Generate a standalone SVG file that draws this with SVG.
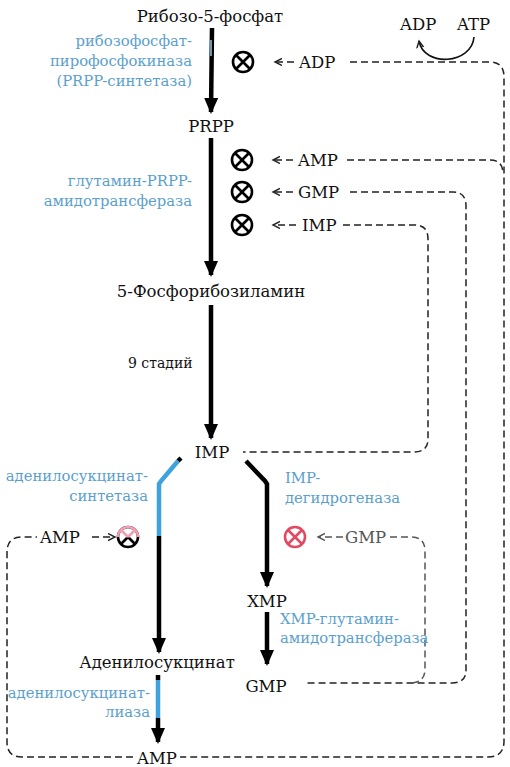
<svg xmlns="http://www.w3.org/2000/svg" width="510" height="767" viewBox="0 0 510 767" font-family="'DejaVu Serif', serif">
<defs>
<style>
text{fill:#111;}
.m{font-size:16.5px;}
.e{font-size:14.8px;fill:#5c9fcc;}
.s{font-size:16.5px;}
.g{fill:#555;}
.main{stroke:#000;stroke-width:4.5;fill:none;}
.blue{stroke:#3ea2dd;stroke-width:4.5;fill:none;}
.d{stroke:#222;stroke-width:1.5;fill:none;stroke-dasharray:7 4;}
.dg{stroke:#555;}
.inh circle{fill:none;stroke:#000;stroke-width:2.6;}
.inh line{stroke:#000;stroke-width:2.6;}
.red circle{stroke:#e04a62;}
.red line{stroke:#e04a62;}
</style>
<marker id="ah" markerUnits="userSpaceOnUse" markerWidth="16" markerHeight="18" refX="14" refY="7" orient="auto">
<path d="M0,0 L16,7 L0,14 Z" fill="#000"/>
</marker>
<marker id="sa" markerUnits="userSpaceOnUse" markerWidth="10" markerHeight="10" refX="7" refY="4" orient="auto">
<path d="M0,0.5 L7,4 L0,7.5" fill="none" stroke="#222" stroke-width="1.4"/>
</marker>
<marker id="sag" markerUnits="userSpaceOnUse" markerWidth="10" markerHeight="10" refX="7" refY="4" orient="auto">
<path d="M0,0.5 L7,4 L0,7.5" fill="none" stroke="#555" stroke-width="1.4"/>
</marker>
</defs>
<rect width="510" height="767" fill="#fff"/>

<g id="connectors">
<path class="main" d="M212,28 L211,112" marker-end="url(#ah)"/>
<path d="M211,40 L211,56" stroke="#8ccbec" stroke-width="1.5" fill="none"/>
<path class="main" d="M211,138 L211,275" marker-end="url(#ah)"/>
<path class="main" d="M211,305 L211,438" marker-end="url(#ah)"/>
<path class="main" d="M181,458 L178,461"/>
<path class="blue" d="M178,461 L161,481 L159,484 L159,536"/>
<path class="main" d="M159,536 L159,652" marker-end="url(#ah)"/>
<path class="main" d="M246,461 L265,481 L267,484 L267,586" marker-end="url(#ah)"/>
<path class="main" d="M267,612 L267,664" marker-end="url(#ah)"/>
<path class="main" d="M158,675 L158,680"/>
<path class="blue" d="M158,680 L158,718"/>
<path class="main" d="M158,718 L158,742" marker-end="url(#ah)"/>
<path d="M474,37 C472,64 424,68 419,41" fill="none" stroke="#111" stroke-width="1.6" marker-end="url(#sa)"/>
<path class="d" d="M350,62 H490 Q504,62 504,77 V741 Q504,757 488,757 H180"/>
<path class="d" d="M347,160 H490 Q503,160 503,174"/>
<path class="d" d="M350,192 H453 Q466,192 466,206 V670 Q466,683 452,683 H305"/>
<path class="d" d="M343,225 H415 Q428,225 428,239 V439 Q428,452 414,452 H243"/>
<path class="d dg" d="M390,537 H411 Q425,537 425,551 V669 Q425,683 410,683"/>
<path class="d" d="M133,757 H22 Q7,757 7,742 V552 Q7,537 22,537 H37"/>
<path class="d" d="M294,62 H275" marker-end="url(#sa)" stroke-dasharray="5 3"/>
<path class="d" d="M293,160 H273" marker-end="url(#sa)" stroke-dasharray="5 3"/>
<path class="d" d="M293,192 H273" marker-end="url(#sa)" stroke-dasharray="5 3"/>
<path class="d" d="M296,225 H273" marker-end="url(#sa)" stroke-dasharray="5 3"/>
<path class="d" d="M92,537 H115" marker-end="url(#sa)" stroke-dasharray="5 3"/>
<path class="d dg" d="M343,537 H318" marker-end="url(#sag)" stroke-dasharray="5 3"/>
</g>

<g id="inh-adp" class="inh"><circle cx="243" cy="62" r="10"/><line x1="236" y1="55" x2="250" y2="69"/><line x1="236" y1="69" x2="250" y2="55"/></g>
<g id="inh-amp" class="inh"><circle cx="242" cy="160" r="10"/><line x1="235" y1="153" x2="249" y2="167"/><line x1="235" y1="167" x2="249" y2="153"/></g>
<g id="inh-gmp" class="inh"><circle cx="242" cy="192" r="10"/><line x1="235" y1="185" x2="249" y2="199"/><line x1="235" y1="199" x2="249" y2="185"/></g>
<g id="inh-imp" class="inh"><circle cx="242" cy="225" r="10"/><line x1="235" y1="218" x2="249" y2="232"/><line x1="235" y1="232" x2="249" y2="218"/></g>
<g id="inh-amp-left" class="inh">
<circle cx="128" cy="537" r="10"/>
<path d="M118,537 A10,10 0 0 1 138,537" fill="none" stroke="#f0a0b4" stroke-width="2.6"/>
<line x1="121" y1="544" x2="128" y2="537"/>
<line x1="135" y1="544" x2="128" y2="537"/>
<line x1="121" y1="530" x2="128" y2="537" style="stroke:#f0a0b4"/>
<line x1="135" y1="530" x2="128" y2="537" style="stroke:#f0a0b4"/>
</g>
<g id="inh-gmp-right" class="inh red"><circle cx="295" cy="537" r="10"/><line x1="288" y1="530" x2="302" y2="544"/><line x1="288" y1="544" x2="302" y2="530"/></g>

<g id="n-ribose"><text class="m" x="210" y="22" text-anchor="middle">Рибозо-5-фосфат</text></g>
<g id="e-prpps"><text class="e" text-anchor="end"><tspan x="192" y="46">рибозофосфат-</tspan><tspan x="192" y="66">пирофосфокиназа</tspan><tspan x="192" y="86">(PRPP-синтетаза)</tspan></text></g>
<g id="n-prpp"><text class="m" x="211" y="132" text-anchor="middle">PRPP</text></g>
<g id="e-gpat"><text class="e" text-anchor="end"><tspan x="192" y="186">глутамин-PRPP-</tspan><tspan x="192" y="206">амидотрансфераза</tspan></text></g>
<g id="n-pra"><text class="m" x="211" y="297" text-anchor="middle">5-Фосфорибозиламин</text></g>
<g id="l-9"><text x="128" y="368" style="font-size:14px">9 стадий</text></g>
<g id="n-imp"><text class="m" x="212" y="458" text-anchor="middle">IMP</text></g>
<g id="e-adss"><text class="e" text-anchor="end"><tspan x="148" y="481">аденилосукцинат-</tspan><tspan x="148" y="501">синтетаза</tspan></text></g>
<g id="e-impdh"><text class="e"><tspan x="285" y="483">IMP-</tspan><tspan x="285" y="503">дегидрогеназа</tspan></text></g>
<g id="n-xmp"><text class="m" x="267" y="607" text-anchor="middle">XMP</text></g>
<g id="e-gmps"><text class="e"><tspan x="280" y="624">XMP-глутамин-</tspan><tspan x="280" y="643">амидотрансфераза</tspan></text></g>
<g id="n-adsuc"><text class="m" x="157" y="668" text-anchor="middle">Аденилосукцинат</text></g>
<g id="n-gmp"><text class="m" x="266" y="692" text-anchor="middle">GMP</text></g>
<g id="e-adsl"><text class="e" text-anchor="end"><tspan x="150" y="698">аденилосукцинат-</tspan><tspan x="150" y="717">лиаза</tspan></text></g>
<g id="n-amp"><text class="m" x="157" y="764" text-anchor="middle">AMP</text></g>
<g id="l-adp"><text class="s" x="299" y="68">ADP</text></g>
<g id="l-amp"><text class="s" x="298" y="166">AMP</text></g>
<g id="l-gmp"><text class="s" x="298" y="198">GMP</text></g>
<g id="l-imp"><text class="s" x="302" y="231">IMP</text></g>
<g id="l-amp2"><text class="s" x="40" y="543">AMP</text></g>
<g id="l-gmp2"><text class="s g" x="345" y="543">GMP</text></g>
<g id="l-adp-top"><text class="s" x="400" y="30">ADP</text></g>
<g id="l-atp-top"><text class="s" x="457" y="30">ATP</text></g>
</svg>
